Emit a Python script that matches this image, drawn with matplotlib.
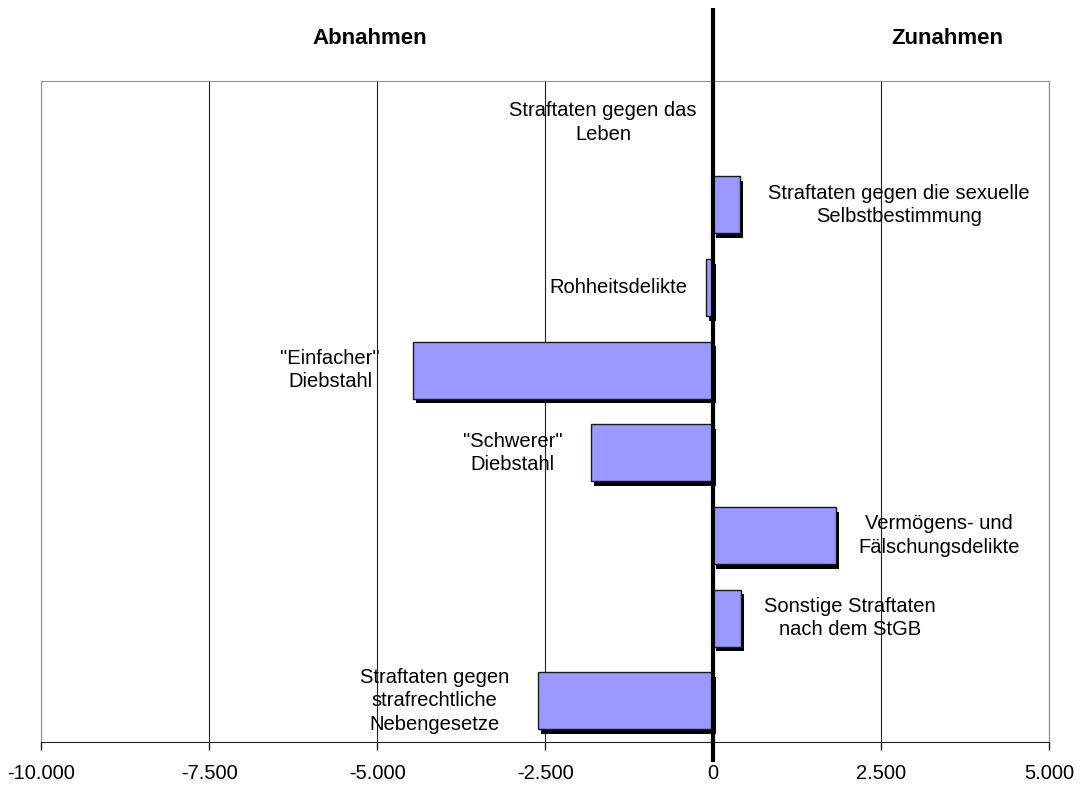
import matplotlib.pyplot as plt
import matplotlib.patheffects as pe
from matplotlib.ticker import FuncFormatter, MultipleLocator
import matplotlib.transforms as mtransforms

plt.rcParams['font.family'] = ['Liberation Sans', 'DejaVu Sans']

# Veränderung der Fallzahlen nach Deliktsgruppen
kategorien = ['Straftaten gegen das\nLeben',
              'Straftaten gegen die sexuelle\nSelbstbestimmung',
              'Rohheitsdelikte',
              '"Einfacher"\nDiebstahl',
              '"Schwerer"\nDiebstahl',
              'Vermögens- und\nFälschungsdelikte',
              'Sonstige Straftaten\nnach dem StGB',
              'Straftaten gegen\nstrafrechtliche\nNebengesetze']
werte = [0, 400, -100, -4460, -1810, 1830, 420, -2600]
# Abstand der Beschriftung (Mitte) vom Balkenende, in Pixeln
label_dx = [-110, 159, -88, -83, -79, 103, 109, -104]

fig = plt.figure(figsize=(10.82, 7.87), dpi=100)
ax = fig.add_axes([41/1082, 1-742/787, 1008/1082, 661/787])

y = range(len(kategorien))
schatten = [pe.SimplePatchShadow(offset=(2.2, -3.4), shadow_rgbFace='black', alpha=1.0), pe.Normal()]
bars = ax.barh(y, werte, height=0.69, color='#9999ff', edgecolor='#1a1a1a', linewidth=1.0, zorder=3)
for b, w in zip(bars, werte):
    if w != 0:
        b.set_path_effects(schatten)
    else:
        b.set_visible(False)

ax.set_xlim(-10000, 5000)
ax.set_ylim(len(kategorien) - 0.5, -0.5)
ax.xaxis.set_major_locator(MultipleLocator(2500))
ax.xaxis.set_major_formatter(FuncFormatter(lambda v, p: f'{v:,.0f}'.replace(',', '.')))
ax.set_yticks([])
ax.grid(axis='x', color='#202020', linewidth=0.8, zorder=0)
ax.tick_params(axis='x', direction='out', length=6, width=1, color='#202020',
               labelsize=14.5, pad=10)

for side in ['top', 'left', 'right']:
    ax.spines[side].set_color('#909090')
ax.spines['bottom'].set_color('#202020')

# Nulllinie, über den Plotbereich hinaus verlängert
trans = mtransforms.blended_transform_factory(ax.transData, ax.transAxes)
ax.plot([0, 0], [-0.030, 1.111], transform=trans, color='black', linewidth=3.0,
        clip_on=False, zorder=5, solid_capstyle='butt')

for i, (kat, w) in enumerate(zip(kategorien, werte)):
    ax.annotate(kat, xy=(w, i), xytext=(label_dx[i] * 0.72, 0), textcoords='offset points',
                ha='center', va='center', multialignment='center', fontsize=14.5,
                linespacing=1.3, zorder=6)

fig.text(370/1082, 1-39/787, 'Abnahmen', ha='center', va='center', fontsize=16, fontweight='bold')
fig.text(947/1082, 1-39/787, 'Zunahmen', ha='center', va='center', fontsize=16, fontweight='bold')

fig.savefig('out.png', dpi=100)
